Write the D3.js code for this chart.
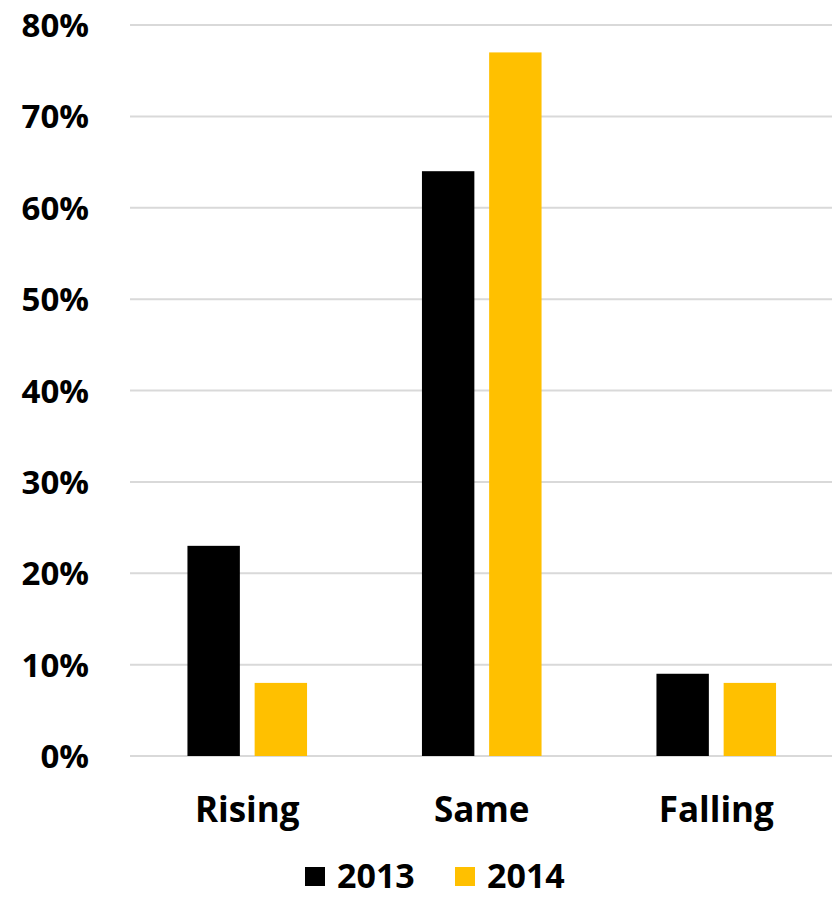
<!DOCTYPE html>
<html>
<head>
<meta charset="utf-8">
<script src="https://cdn.jsdelivr.net/npm/d3@7"></script>
<style>
  body { margin: 0; background: #fff; }
  svg text { font-family: "Open Sans", "Lato", sans-serif; font-weight: 700; fill: #000; }
</style>
</head>
<body>
<svg id="chart" width="832" height="900"></svg>
<script>
// data
const categories = ["Rising", "Same", "Falling"];
const seriesNames = ["2013", "2014"];
const values2013 = [0.23, 0.64, 0.09];
const values2014 = [0.08, 0.77, 0.08];
const yTicks = [0, 0.1, 0.2, 0.3, 0.4, 0.5, 0.6, 0.7, 0.8];
const colors = ["#000000", "#FFC000"];

const svg = d3.select("#chart");
const plotLeft = 130, plotRight = 833.5, plotTop = 25, plotBottom = 756;

const x0 = d3.scaleBand().domain(categories).range([plotLeft, plotRight])
  .paddingInner(0.49).paddingOuter(0.245);
const x1 = d3.scaleBand().domain(seriesNames).range([0, x0.bandwidth()])
  .paddingInner(0.22);
const y = d3.scaleLinear().domain([0, 0.8]).range([plotBottom, plotTop]);

// gridlines
svg.append("g")
  .selectAll("line")
  .data(yTicks)
  .enter().append("line")
  .attr("x1", plotLeft).attr("x2", 832)
  .attr("y1", d => y(d)).attr("y2", d => y(d))
  .attr("stroke", "#d9d9d9").attr("stroke-width", 2);

// y labels
const yAxis = svg.append("g")
  .attr("transform", "translate(" + (plotLeft - 41) + ",0)")
  .call(d3.axisLeft(y).tickValues(yTicks).tickFormat(d3.format(".0%")).tickSize(0).tickPadding(0));
yAxis.select(".domain").remove();
yAxis.selectAll("text").attr("font-size", 33).attr("dy", "0.35em")
  .style("font-family", "'Open Sans', sans-serif").style("font-weight", 700);

// bars
const rows = categories.map((c, i) => ({ cat: c, vals: [values2013[i], values2014[i]] }));
const groups = svg.append("g").selectAll("g")
  .data(rows)
  .enter().append("g")
  .attr("transform", d => "translate(" + x0(d.cat) + ",0)");
groups.selectAll("rect")
  .data(d => d.vals.map((v, j) => ({ key: seriesNames[j], v: v, j: j })))
  .enter().append("rect")
  .attr("x", d => x1(d.key))
  .attr("y", d => y(d.v))
  .attr("width", x1.bandwidth())
  .attr("height", d => plotBottom - y(d.v))
  .attr("fill", d => colors[d.j]);

// x labels
const xAxis = svg.append("g")
  .attr("transform", "translate(0," + plotBottom + ")")
  .call(d3.axisBottom(x0).tickSize(0).tickPadding(0));
xAxis.select(".domain").remove();
xAxis.selectAll("text").attr("font-size", 35).attr("y", 54).attr("dy", "0.35em")
  .style("font-family", "'Open Sans', sans-serif").style("font-weight", 700);

// legend (nudged up so the text box stays inside the page)
const legend = svg.append("g");
const legendX = [305, 455];
seriesNames.forEach((s, i) => {
  legend.append("rect")
    .attr("x", legendX[i]).attr("y", 867).attr("width", 20).attr("height", 19)
    .attr("fill", colors[i]);
  legend.append("text")
    .attr("x", legendX[i] + 32).attr("y", 876).attr("dy", "0.35em")
    .attr("font-size", 34).text(s);
});
</script>
</body>
</html>
